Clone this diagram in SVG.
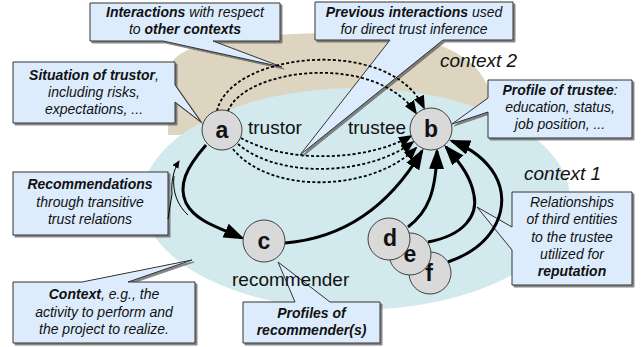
<svg xmlns="http://www.w3.org/2000/svg" width="642" height="347" viewBox="0 0 642 347">
  <defs>
    <style>
      .bg { fill: #ffffff; }
      .ctx2 { fill: #ddd5bf; }
      .ctx1 { fill: #d2e9ee; }
      .callout { fill: #ddecfc; stroke: #333333; stroke-width: 1; stroke-linejoin: miter; filter: url(#shadow); }
      .ctext { font-family: "Liberation Sans", Arial, sans-serif; font-size: 14px; font-style: italic; fill: #111111; text-anchor: middle; }
      .b { font-weight: bold; }
      .node circle { fill: #d9d9d9; stroke: #404040; stroke-width: 1; }
      .node text { font-family: "Liberation Sans", Arial, sans-serif; font-size: 23px; font-weight: bold; fill: #111111; text-anchor: middle; }
      .role { font-family: "Liberation Sans", Arial, sans-serif; font-size: 19px; fill: #111111; }
      .ctxlabel { font-family: "Liberation Sans", Arial, sans-serif; font-size: 19px; font-style: italic; fill: #111111; }
      .solid { fill: none; stroke: #000000; stroke-width: 3; marker-end: url(#headBig); }
      .dashed { fill: none; stroke: #000000; stroke-width: 1.8; stroke-dasharray: 3 2.2; marker-end: url(#headSmall); }
      .thin { fill: none; stroke: #000000; stroke-width: 1; }
    </style>
    <filter id="shadow" x="-10%" y="-10%" width="130%" height="130%">
      <feDropShadow dx="2" dy="2" stdDeviation="0.4" flood-color="#555555" flood-opacity="0.7"/>
    </filter>
    <marker id="headBig" markerUnits="userSpaceOnUse" markerWidth="21" markerHeight="15" refX="18" refY="7.5" orient="auto">
      <path d="M0,0 L21,7.5 L0,15 Z" fill="#000000"/>
    </marker>
    <marker id="headSmall" markerUnits="userSpaceOnUse" markerWidth="14" markerHeight="11" refX="12" refY="5.5" orient="auto">
      <path d="M0,0 L14,5.5 L0,11 Z" fill="#000000"/>
    </marker>
    <marker id="headTiny" markerUnits="userSpaceOnUse" markerWidth="8" markerHeight="7" refX="7" refY="3.5" orient="auto">
      <path d="M0,0 L8,3.5 L0,7 Z" fill="#000000"/>
    </marker>
  </defs>

  <rect class="bg" x="0" y="0" width="642" height="347"/>

  <!-- context areas -->
  <g id="contexts">
    <path class="ctx2" d="M168,135 L168,75 C168,55 190,45 230,40 C270,35 300,33 335,33 C388,33 418,37 444,47 C468,57 484,72 492,96 L492,135 Z"/>
    <ellipse class="ctx1" cx="356" cy="199" rx="214" ry="111"/>
  </g>

  <!-- callouts -->
  <g id="callout-interactions">
    <path class="callout" d="M90,3 H280 V41 H213 L282,67 L163,41 H90 Z"/>
    <text class="ctext" x="185" y="17"><tspan class="b">Interactions</tspan> with respect</text>
    <text class="ctext" x="185" y="34">to <tspan class="b">other contexts</tspan></text>
  </g>
  <g id="callout-previous">
    <path class="callout" d="M315,2 H513 V40 H443 L300,155 L390,40 H315 Z"/>
    <text class="ctext" x="414" y="17"><tspan class="b">Previous interactions</tspan> used</text>
    <text class="ctext" x="414" y="34">for direct trust inference</text>
  </g>
  <g id="callout-situation">
    <path class="callout" d="M13,62 H175 V85 L201,122 L175,102 V123 H13 Z"/>
    <text class="ctext" x="94" y="80"><tspan class="b">Situation of trustor</tspan>,</text>
    <text class="ctext" x="94" y="97">including risks,</text>
    <text class="ctext" x="94" y="114">expectations, ...</text>
  </g>
  <g id="callout-recommendations">
    <rect class="callout" x="13" y="172" width="155" height="63"/>
    <text class="ctext" x="90" y="189"><tspan class="b">Recommendations</tspan></text>
    <text class="ctext" x="90" y="207">through transitive</text>
    <text class="ctext" x="90" y="224">trust relations</text>
    <path class="thin" d="M168,219 L172,194 C171,183 173,171 179,161" marker-end="url(#headTiny)"/>
    <path class="thin" d="M188,215 C178,206 172,192 174,176"/>
  </g>
  <g id="callout-profile-trustee">
    <path class="callout" d="M488,80 H632 V138 H488 V112 L452,124 L488,98 Z"/>
    <text class="ctext" x="560" y="95"><tspan class="b">Profile of trustee</tspan>:</text>
    <text class="ctext" x="560" y="112">education, status,</text>
    <text class="ctext" x="560" y="129">job position, ...</text>
  </g>
  <g id="callout-context">
    <path class="callout" d="M13,282 H82 L192,260 L128,282 H195 V343 H13 Z"/>
    <text class="ctext" x="104" y="299"><tspan class="b">Context</tspan>, e.g., the</text>
    <text class="ctext" x="104" y="317">activity to perform and</text>
    <text class="ctext" x="104" y="334">the project to realize.</text>
  </g>
  <g id="callout-recommenders">
    <path class="callout" d="M243,302 H295 L278,262 L330,302 H380 V343 H243 Z"/>
    <text class="ctext b" x="311.5" y="318">Profiles of</text>
    <text class="ctext b" x="311.5" y="335">recommender(s)</text>
  </g>
  <g id="callout-reputation">
    <path class="callout" d="M512,192 H632 V285 H512 V250 L477,207 L512,227 Z"/>
    <text class="ctext" x="572" y="207">Relationships</text>
    <text class="ctext" x="572" y="224">of third entities</text>
    <text class="ctext" x="572" y="242">to the trustee</text>
    <text class="ctext" x="572" y="259">utilized for</text>
    <text class="ctext b" x="572" y="276">reputation</text>
  </g>

  <!-- context labels -->
  <text class="ctxlabel" x="440" y="67">context 2</text>
  <text class="ctxlabel" x="524" y="180">context 1</text>

  <!-- connectors -->
  <g id="connectors">
    <!-- interactions in other contexts -->
    <path class="dashed" d="M217,111 C230,52 390,35 424,108"/>
    <path class="dashed" d="M228,111 C245,68 375,52 416,113"/>
    <!-- previous interactions in this context -->
    <path class="dashed" d="M241,138 C290,165 370,160 411,136"/>
    <path class="dashed" d="M238,144 C280,180 370,175 413,142"/>
    <path class="dashed" d="M233,149 C270,195 372,192 416,148"/>
    <!-- recommendation chain -->
    <path class="solid" d="M206,145 C186,168 178,185 186,203 C196,222 220,228 242,238"/>
    <path class="solid" d="M285,243 C345,238 390,205 422,151"/>
    <!-- reputation sources -->
    <path class="solid" d="M408,227 C428,212 436,192 437,151"/>
    <path class="solid" d="M428,242 C465,235 478,215 474,195 C471,178 462,165 446,147"/>
    <path class="solid" d="M448,262 C497,245 512,205 495,175 C485,158 470,148 452,141"/>
  </g>

  <!-- nodes -->
  <g id="node-a" class="node">
    <circle cx="222" cy="130" r="20"/>
    <text x="222" y="138">a</text>
  </g>
  <g id="node-b" class="node">
    <circle cx="431" cy="129" r="21"/>
    <text x="431" y="137">b</text>
  </g>
  <g id="node-c" class="node">
    <circle cx="264" cy="241" r="21"/>
    <text x="264" y="249">c</text>
  </g>
  <g id="node-f" class="node">
    <circle cx="430" cy="273" r="21"/>
    <text x="429" y="281">f</text>
  </g>
  <g id="node-e" class="node">
    <circle cx="410" cy="254" r="21"/>
    <text x="410" y="262">e</text>
  </g>
  <g id="node-d" class="node">
    <circle cx="389" cy="239" r="21"/>
    <text x="390" y="246">d</text>
  </g>

  <!-- role labels -->
  <text class="role" x="248" y="134">trustor</text>
  <text class="role" x="348" y="134">trustee</text>
  <text class="role" x="232" y="286">recommender</text>
</svg>
